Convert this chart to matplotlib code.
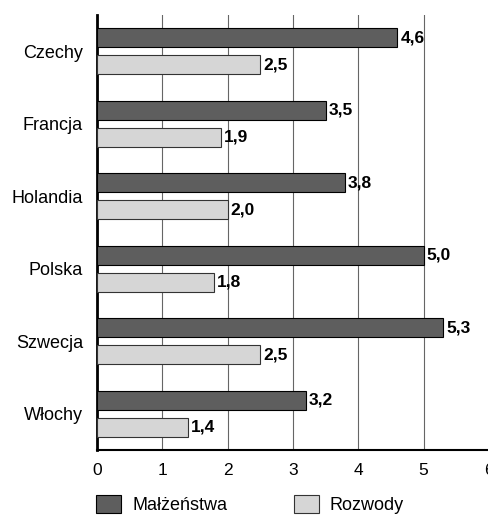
import matplotlib.pyplot as plt
import numpy as np

plt.rcParams['font.family'] = ['Liberation Sans', 'DejaVu Sans']

# Data
kraje = ['Czechy', 'Francja', 'Holandia', 'Polska', 'Szwecja', 'Włochy']
malzenstwa = [4.6, 3.5, 3.8, 5.0, 5.3, 3.2]
rozwody = [2.5, 1.9, 2.0, 1.8, 2.5, 1.4]

fig = plt.figure(figsize=(4.89, 5.15), dpi=100)
ax = fig.add_axes([0.198, 0.126, 0.802, 0.845])

y = np.arange(len(kraje)) + 0.5
h = 0.26
off = 0.185

# Two bars per country
b1 = ax.barh(y - off, malzenstwa, height=h, color='#5e5e5e', edgecolor='black', linewidth=0.8,
             label='Małżeństwa', zorder=3)
b2 = ax.barh(y + off, rozwody, height=h, color='#d6d6d6', edgecolor='#333333', linewidth=0.8,
             label='Rozwody', zorder=3)

# value labels with decimal comma
ax.bar_label(b1, labels=[f'{v:.1f}'.replace('.', ',') for v in malzenstwa], padding=2,
             fontsize=12.5, fontweight='bold')
ax.bar_label(b2, labels=[f'{v:.1f}'.replace('.', ',') for v in rozwody], padding=2,
             fontsize=12.5, fontweight='bold')

ax.set_xlim(0, 6)
ax.set_ylim(6, 0)
ax.set_yticks(y)
ax.set_yticklabels(kraje, fontsize=13)
ax.set_xticks(range(7))
ax.set_xticklabels([str(i) for i in range(7)], fontsize=12.5)
ax.tick_params(axis='y', length=0, pad=10)
ax.tick_params(axis='x', length=0, pad=9)

ax.grid(axis='x', color='#666666', linewidth=0.8, zorder=0)
for s in ['top', 'right']:
    ax.spines[s].set_visible(False)
ax.spines['left'].set_linewidth(2)
ax.spines['bottom'].set_linewidth(1.5)

fig.legend(handles=[b1, b2], loc='lower left', bbox_to_anchor=(0.163, -0.03), ncol=2,
           frameon=False, fontsize=13, handlelength=1.4, handleheight=1.1,
           handletextpad=0.6, columnspacing=3.7)

fig.savefig('out.png', dpi=100)
